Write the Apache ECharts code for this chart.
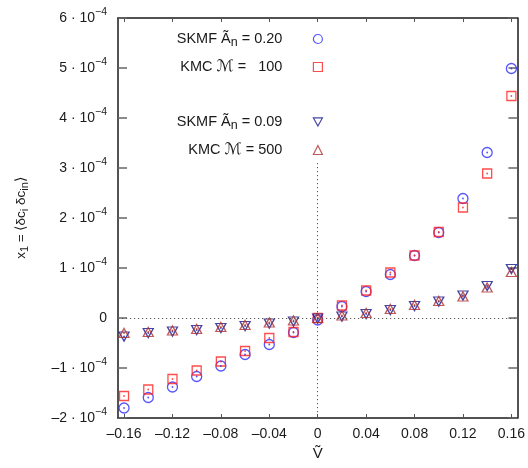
<!DOCTYPE html>
<html>
<head>
<meta charset="utf-8">
<script src="https://cdn.jsdelivr.net/npm/echarts@6/dist/echarts.min.js"></script>
<style>
  html, body { margin: 0; padding: 0; background: #fff; }
  #chart { width: 528px; height: 468px; }
</style>
</head>
<body>
<div id="chart"></div>
<script>
// Bias voltage Ṽ (dimensionless)
const voltages = [-0.16, -0.14, -0.12, -0.10, -0.08, -0.06, -0.04, -0.02, 0.00,
                  0.02, 0.04, 0.06, 0.08, 0.10, 0.12, 0.14, 0.16];

// Correlation x1 = <δc_i δc_in> for each run
const skmf020 = [-1.80e-4, -1.59e-4, -1.38e-4, -1.17e-4, -0.96e-4, -0.73e-4, -0.53e-4, -0.29e-4, -0.04e-4,
                 0.23e-4, 0.53e-4, 0.87e-4, 1.25e-4, 1.71e-4, 2.39e-4, 3.31e-4, 4.99e-4];
const kmc100  = [-1.56e-4, -1.43e-4, -1.22e-4, -1.05e-4, -0.87e-4, -0.66e-4, -0.40e-4, -0.28e-4, 0.00e-4,
                 0.25e-4, 0.55e-4, 0.91e-4, 1.25e-4, 1.72e-4, 2.21e-4, 2.89e-4, 4.44e-4];
const skmf009 = [-0.37e-4, -0.30e-4, -0.27e-4, -0.24e-4, -0.20e-4, -0.16e-4, -0.11e-4, -0.07e-4, -0.01e-4,
                 0.03e-4, 0.08e-4, 0.16e-4, 0.24e-4, 0.33e-4, 0.45e-4, 0.64e-4, 0.98e-4];
const kmc500  = [-0.30e-4, -0.28e-4, -0.25e-4, -0.22e-4, -0.18e-4, -0.14e-4, -0.09e-4, -0.05e-4, 0.00e-4,
                 0.05e-4, 0.10e-4, 0.18e-4, 0.26e-4, 0.34e-4, 0.43e-4, 0.61e-4, 0.92e-4];

// Tick positions
const xTicks = [-0.16, -0.12, -0.08, -0.04, 0, 0.04, 0.08, 0.12, 0.16];
const yTicks = [-2e-4, -1e-4, 0, 1e-4, 2e-4, 3e-4, 4e-4, 5e-4, 6e-4];

const FONT = "'Liberation Sans', Arial, Helvetica, sans-serif";
const INK = '#1a1a1a';

function pairs(ys) { return voltages.map((v, i) => [v, ys[i]]); }

const xLabel = v => {
  if (Math.abs(v) < 1e-9) return '0';
  const s = Math.abs(v).toFixed(2);
  return v < 0 ? '\u2013' + s : s;
};
const yLabel = v => {
  const n = Math.round(v / 1e-4);
  if (n === 0) return '{b|0}';
  return '{b|' + (n < 0 ? '\u2013' + (-n) : n) + ' \u00b7 10}{s|\u22124}';
};

const runs = [
  { name: 'SKMF 0.20', data: skmf020, symbol: 'circle', size: 10, color: '#2a2aff' },
  { name: 'KMC 100',   data: kmc100,  symbol: 'rect',   size: 9,  color: '#ff2020' },
  { name: 'SKMF 0.09', data: skmf009, symbol: 'path://M0,0 L10,0 L5,9 Z', size: [10, 9], color: '#16168c' },
  { name: 'KMC 500',   data: kmc500,  symbol: 'triangle', size: [10, 9], color: '#b03030' }
];

const legendText = {
  'SKMF 0.20': '{t|SKMF \u00c3}{sub|n}{e| = 0.20}',
  'KMC 100':   '{t|KMC }{m|\u2133}{e| =   100}',
  'SKMF 0.09': '{t|SKMF \u00c3}{sub|n}{e| = 0.09}',
  'KMC 500':   '{t|KMC }{m|\u2133}{e| = 500}'
};
const legendRich = {
  t:   { fontSize: 14.5, fontFamily: FONT, color: INK, lineHeight: 18 },
  e:   { fontSize: 14.5, fontFamily: FONT, color: INK, lineHeight: 18, padding: [0, 26, 0, 0] },
  sub: { fontSize: 12.5, fontFamily: FONT, color: INK, lineHeight: 18, padding: [7, 0, 0, 0] },
  m:   { fontSize: 16, fontFamily: "'DejaVu Serif', 'DejaVu Sans', serif", fontStyle: 'italic', color: INK, lineHeight: 18 }
};

const series = [];
runs.forEach(r => {
  series.push({
    name: r.name,
    type: 'scatter',
    data: pairs(r.data),
    symbol: r.symbol,
    symbolSize: r.size,
    itemStyle: { color: 'rgba(255,255,255,0)', borderColor: r.color, borderWidth: 1.3 },
    z: 3
  });
  // small centre dot drawn inside each marker
  series.push({
    name: r.name + ' centre',
    type: 'scatter',
    data: pairs(r.data),
    symbol: 'circle',
    symbolSize: 1.8,
    itemStyle: { color: r.color },
    silent: true,
    z: 4
  });
});

// dotted zero axes
series.push({
  name: 'zero axes',
  type: 'scatter',
  data: [],
  silent: true,
  z: 1,
  markLine: {
    silent: true,
    symbol: ['none', 'none'],
    label: { show: false },
    lineStyle: { color: '#555', width: 1, type: [1.2, 2.8] },
    data: [
      { yAxis: 0 },
      [{ coord: [0, 3.1e-4] }, { coord: [0, -2e-4] }]
    ]
  }
});

const frameLine = { show: true, onZero: false, lineStyle: { color: INK, width: 1.5 } };

const legendBase = {
  orient: 'vertical', align: 'right', right: 205, padding: 0,
  itemWidth: 9, itemHeight: 9, itemGap: 10,
  formatter: n => legendText[n],
  textStyle: { rich: legendRich },
  itemStyle: { borderWidth: 1.2 },
  selectedMode: false
};

const option = {
  animation: false,
  backgroundColor: '#fff',
  grid: { left: 118, right: 10, top: 18, bottom: 50, containLabel: false },
  legend: [
    Object.assign({}, legendBase, { data: ['SKMF 0.20', 'KMC 100'], top: 29 }),
    Object.assign({}, legendBase, { data: ['SKMF 0.09', 'KMC 500'], top: 112 })
  ],
  xAxis: [
    {
      type: 'value', position: 'bottom', min: -0.165, max: 0.165,
      axisLine: frameLine,
      axisTick: { show: true, inside: true, length: 4, customValues: xTicks, lineStyle: { color: '#555', width: 1 } },
      axisLabel: { customValues: xTicks, formatter: xLabel, margin: 9, fontSize: 14, fontFamily: FONT, color: INK },
      splitLine: { show: false },
      name: '\u1e7c',
      nameLocation: 'middle', nameGap: 26,
      nameTextStyle: { fontSize: 15, fontFamily: FONT, color: INK }
    },
    {
      type: 'value', position: 'top', min: -0.165, max: 0.165,
      axisLine: frameLine,
      axisTick: { show: true, inside: true, length: 4, customValues: xTicks, lineStyle: { color: '#555', width: 1 } },
      axisLabel: { show: false },
      splitLine: { show: false }
    }
  ],
  yAxis: [
    {
      type: 'value', position: 'left', min: -2e-4, max: 6e-4,
      axisLine: frameLine,
      axisTick: { show: true, inside: true, length: 9, customValues: yTicks, lineStyle: { color: '#666', width: 1.5 } },
      axisLabel: {
        customValues: yTicks, formatter: yLabel, margin: 11,
        rich: {
          b: { fontSize: 14, fontFamily: FONT, color: INK },
          s: { fontSize: 10.5, fontFamily: FONT, color: INK, padding: [0, 0, 11, 0] }
        }
      },
      splitLine: { show: false },
      name: '{t|x}{sub|1}{t| = \u27e8\u03b4c}{sub|i}{t| \u03b4c}{sub|in}{t|\u27e9}',
      nameLocation: 'middle', nameGap: 88, nameRotate: 90,
      nameTextStyle: {
        rich: {
          t: { fontSize: 13.5, fontFamily: FONT, color: INK },
          sub: { fontSize: 11, fontFamily: FONT, color: INK, padding: [6, 0, 0, 0] }
        }
      }
    },
    {
      type: 'value', position: 'right', min: -2e-4, max: 6e-4,
      axisLine: frameLine,
      axisTick: { show: true, inside: true, length: 9, customValues: yTicks, lineStyle: { color: '#666', width: 1.5 } },
      axisLabel: { show: false },
      splitLine: { show: false }
    }
  ],
  series: series
};

const chart = echarts.init(document.getElementById('chart'), null, { renderer: 'canvas' });
chart.setOption(option);
</script>
</body>
</html>
